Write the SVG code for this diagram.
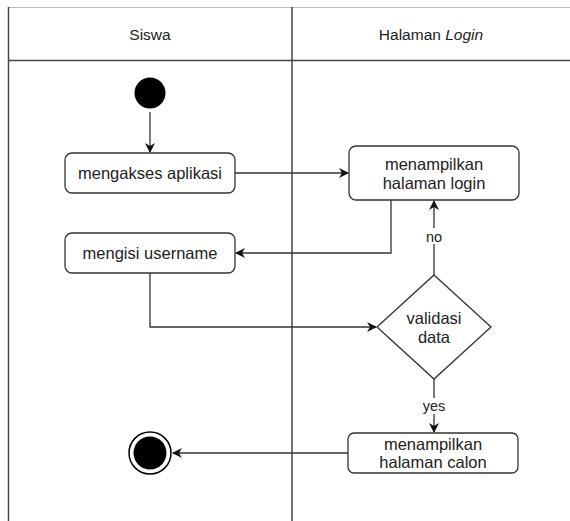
<svg xmlns="http://www.w3.org/2000/svg" width="570" height="521" viewBox="0 0 570 521">
  <defs>
    <marker id="arrow" viewBox="0 0 10 10" refX="9" refY="5" markerWidth="10" markerHeight="10" markerUnits="userSpaceOnUse" orient="auto">
      <path d="M0,0 L10,5 L0,10 L3,5 Z" fill="#111"/>
    </marker>
  </defs>
  <style>
    text { font-family: "Liberation Sans", Arial, sans-serif; font-size: 16.5px; fill: #222; text-anchor: middle; }
    .head { font-size: 15.5px; }
    .lane { stroke: #444; stroke-width: 1.5; fill: none; }
    .act { fill: #fff; stroke: #333; stroke-width: 1.3; }
    .edge { fill: none; stroke: #333; stroke-width: 1.3; marker-end: url(#arrow); }
    .lbl { font-size: 14.5px; }
  </style>
  <rect width="570" height="521" fill="#fff"/>

  <!-- swimlanes -->
  <g id="lanes">
    <line x1="8" y1="7.5" x2="570" y2="7.5" stroke="#bbb" stroke-width="1"/>
    <line class="lane" x1="8" y1="60.5" x2="570" y2="60.5"/>
    <line class="lane" x1="8.5" y1="7" x2="8.5" y2="521"/>
    <line class="lane" x1="292" y1="7" x2="292" y2="521"/>
    <text class="head" x="150" y="40">Siswa</text>
    <text class="head" x="431" y="40">Halaman <tspan font-style="italic">Login</tspan></text>
  </g>

  <!-- connectors -->
  <g id="connectors">
    <path class="edge" d="M150,112 V152"/>
    <path class="edge" d="M235,173 H348"/>
    <path class="edge" d="M391,200 V253 H236"/>
    <path class="edge" d="M150,273 V327 H376"/>
    <path class="edge" d="M434,275 V201"/>
    <rect x="423" y="228" width="22" height="16" fill="#fff"/>
    <text class="lbl" x="434" y="242">no</text>
    <path class="edge" d="M434,379 V432"/>
    <rect x="419" y="398" width="30" height="16" fill="#fff"/>
    <text class="lbl" x="434" y="411">yes</text>
    <path class="edge" d="M348,453 H173"/>
  </g>

  <!-- nodes -->
  <g id="start">
    <circle cx="150" cy="93" r="15.5" fill="#000"/>
  </g>
  <g id="mengakses-aplikasi">
    <rect class="act" x="65" y="153" width="170" height="40" rx="7"/>
    <text x="150" y="179">mengakses aplikasi</text>
  </g>
  <g id="mengisi-username">
    <rect class="act" x="65" y="233" width="170" height="40" rx="7"/>
    <text x="150" y="259">mengisi username</text>
  </g>
  <g id="menampilkan-halaman-login">
    <rect class="act" x="349" y="146" width="170" height="54" rx="7"/>
    <text x="434" y="170">menampilkan</text>
    <text x="434" y="189">halaman login</text>
  </g>
  <g id="validasi-data">
    <polygon class="act" points="434,275 491,327 434,379 377,327"/>
    <text x="434" y="324">validasi</text>
    <text x="434" y="343">data</text>
  </g>
  <g id="menampilkan-halaman-calon">
    <rect class="act" x="348" y="433" width="170" height="40" rx="6"/>
    <text x="433" y="450">menampilkan</text>
    <text x="433" y="468">halaman calon</text>
  </g>
  <g id="end">
    <circle cx="150" cy="453" r="21" fill="#fff" stroke="#000" stroke-width="1.5"/>
    <circle cx="150" cy="453" r="16.5" fill="#000"/>
  </g>
</svg>
